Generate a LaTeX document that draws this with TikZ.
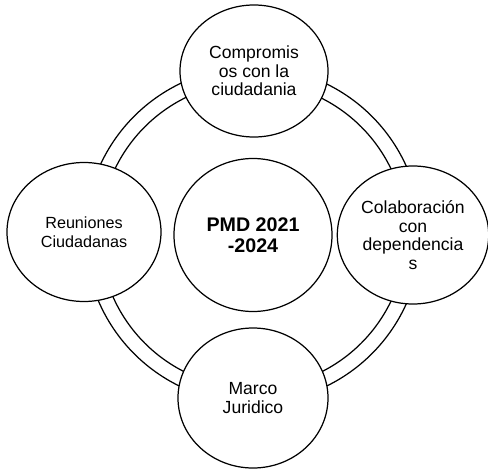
\documentclass[tikz,border=0pt]{standalone}
\usepackage{fontspec}
\setmainfont{Liberation Sans}
\usepackage{tikz}
\usetikzlibrary{shapes.geometric}

\begin{document}
\begin{tikzpicture}
	[
	 every node/.style = {shape=ellipse,
		                  draw,
		                  align=center,
		                  fill = white,
		                  line width = 0.7pt,
		                  font=\fontsize{10}{10.5}\selectfont,
		                  minimum width = 3cm,
		                  minimum height = 2.75cm,
		                  inner sep = 1pt
		                 },
	 PM/.style = {minimum width = 3.16cm,
	              minimum height = 3.06cm,
	              font=\fontsize{11.2}{12}\selectfont\bfseries},
	 ring/.style = {line width = 0.7pt}
	]
	
	\newcommand{\CMP}{Compromis\\os con la\\ciudadania}
	\newcommand{\CLB}{Colaboración\\con\\dependencia\\s}
	\newcommand{\RNC}{Reuniones\\Ciudadanas}
	\newcommand{\MJR}{Marco\\Juridico}
	\newcommand{\PMD}{PMD 2021\\-2024}
	
	\useasboundingbox (-5.06,-4.68) rectangle (4.70,4.70);
	
	\node [PM] (P) at (0,0) {\PMD};
	
	\draw [ring] (P.center) circle [radius=3.36cm];
	\draw [ring] (P.center) circle [radius=3.06cm];
	
	\node [minimum width=2.96cm, minimum height=2.64cm] (T) at (0.02,3.28)   {\CMP};
	\node [minimum width=3.08cm, minimum height=2.78cm,
	       font=\fontsize{9.2}{11}\selectfont] (L) at (-3.38,0.06)  {\RNC};
	\node [minimum height=2.76cm] (R) at (3.20,0)      {\CLB};
	\node [minimum height=2.80cm] (B) at (0,-3.26)     {\MJR};
\end{tikzpicture}
\end{document}
